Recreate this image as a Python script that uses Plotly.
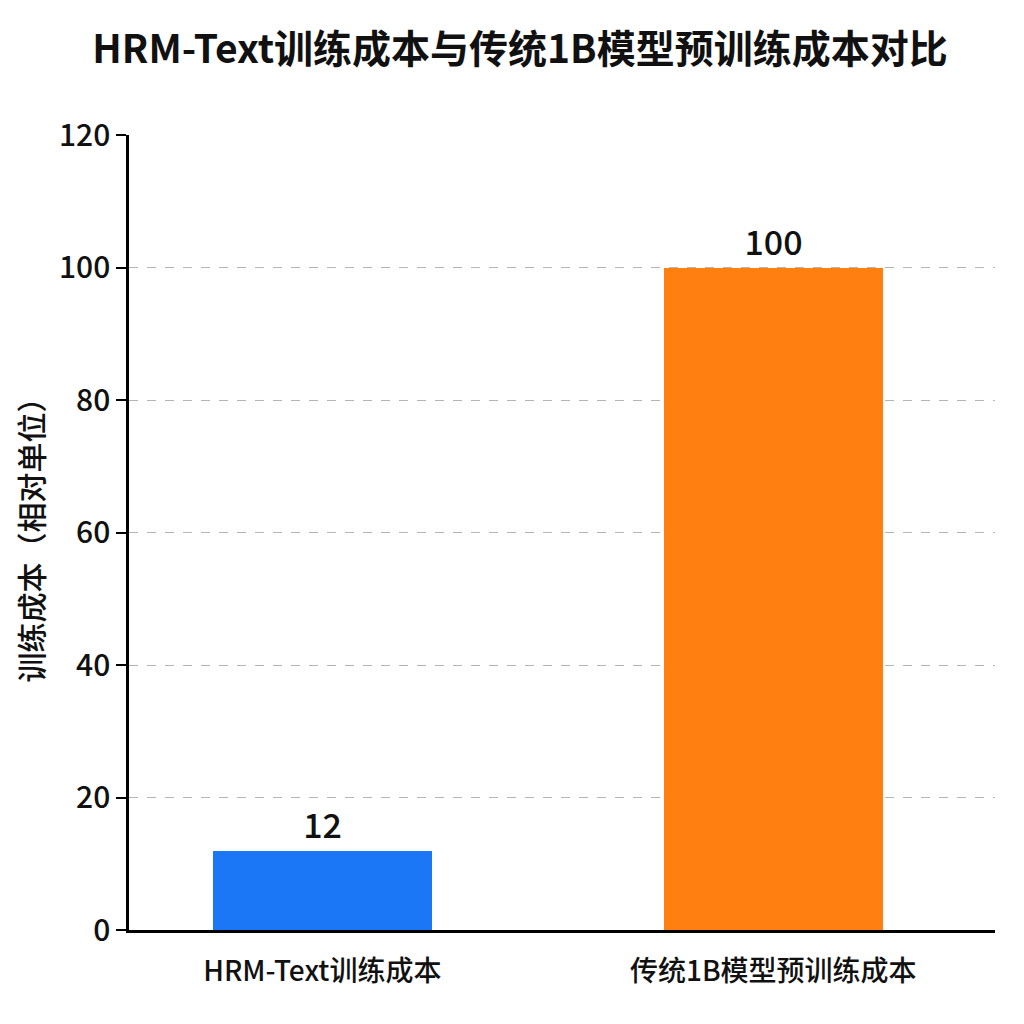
import plotly.graph_objects as go

categories = ["HRM-Text训练成本", "传统1B模型预训练成本"]
costs = [12, 100]
bar_colors = ["#1c77f6", "#ff7f10"]
y_ticks = [0, 20, 40, 60, 80, 100, 120]

FONT = "Noto Sans CJK SC"

fig = go.Figure()
fig.add_trace(go.Bar(
    x=[0, 1], y=costs,
    marker=dict(color=bar_colors, line=dict(width=0)),
    width=0.485,
    text=[str(v) for v in costs], textposition="outside",
    textfont=dict(family=FONT, size=34, color="#111", weight=500),
    cliponaxis=False,
))
fig.update_layout(
    width=1024, height=1024,
    paper_bgcolor="white", plot_bgcolor="white",
    margin=dict(l=121, r=37, t=127, b=102),
    title=dict(text="HRM-Text训练成本与传统1B模型预训练成本对比",
               x=0.5, xanchor="center", y=0.96, yanchor="middle",
               font=dict(family=FONT, size=39, color="#111", weight=700)),
    font=dict(family=FONT, color="#111"),
    showlegend=False,
    bargap=0,
)
fig.update_xaxes(
    tickvals=[0, 1], ticktext=categories, range=[-0.4286, 1.4917],
    showline=True, linecolor="black", linewidth=2.5,
    ticks="", showgrid=False, zeroline=False, ticklabelstandoff=15,
    tickfont=dict(family=FONT, size=28, color="#111", weight=500),
)
fig.update_yaxes(
    range=[0, 120], tickvals=y_ticks,
    showline=True, linecolor="black", linewidth=2.5,
    ticks="outside", ticklen=10, tickwidth=2, tickcolor="black",
    showgrid=True, gridcolor="#b5b5b5", griddash="dash", gridwidth=1,
    zeroline=False,
    tickfont=dict(family=FONT, size=30, color="#111", weight=500),
    title=dict(text="训练成本（相对单位）", standoff=14,
               font=dict(family=FONT, size=30, color="#111", weight=500)),
)
fig.write_html("out.html")
